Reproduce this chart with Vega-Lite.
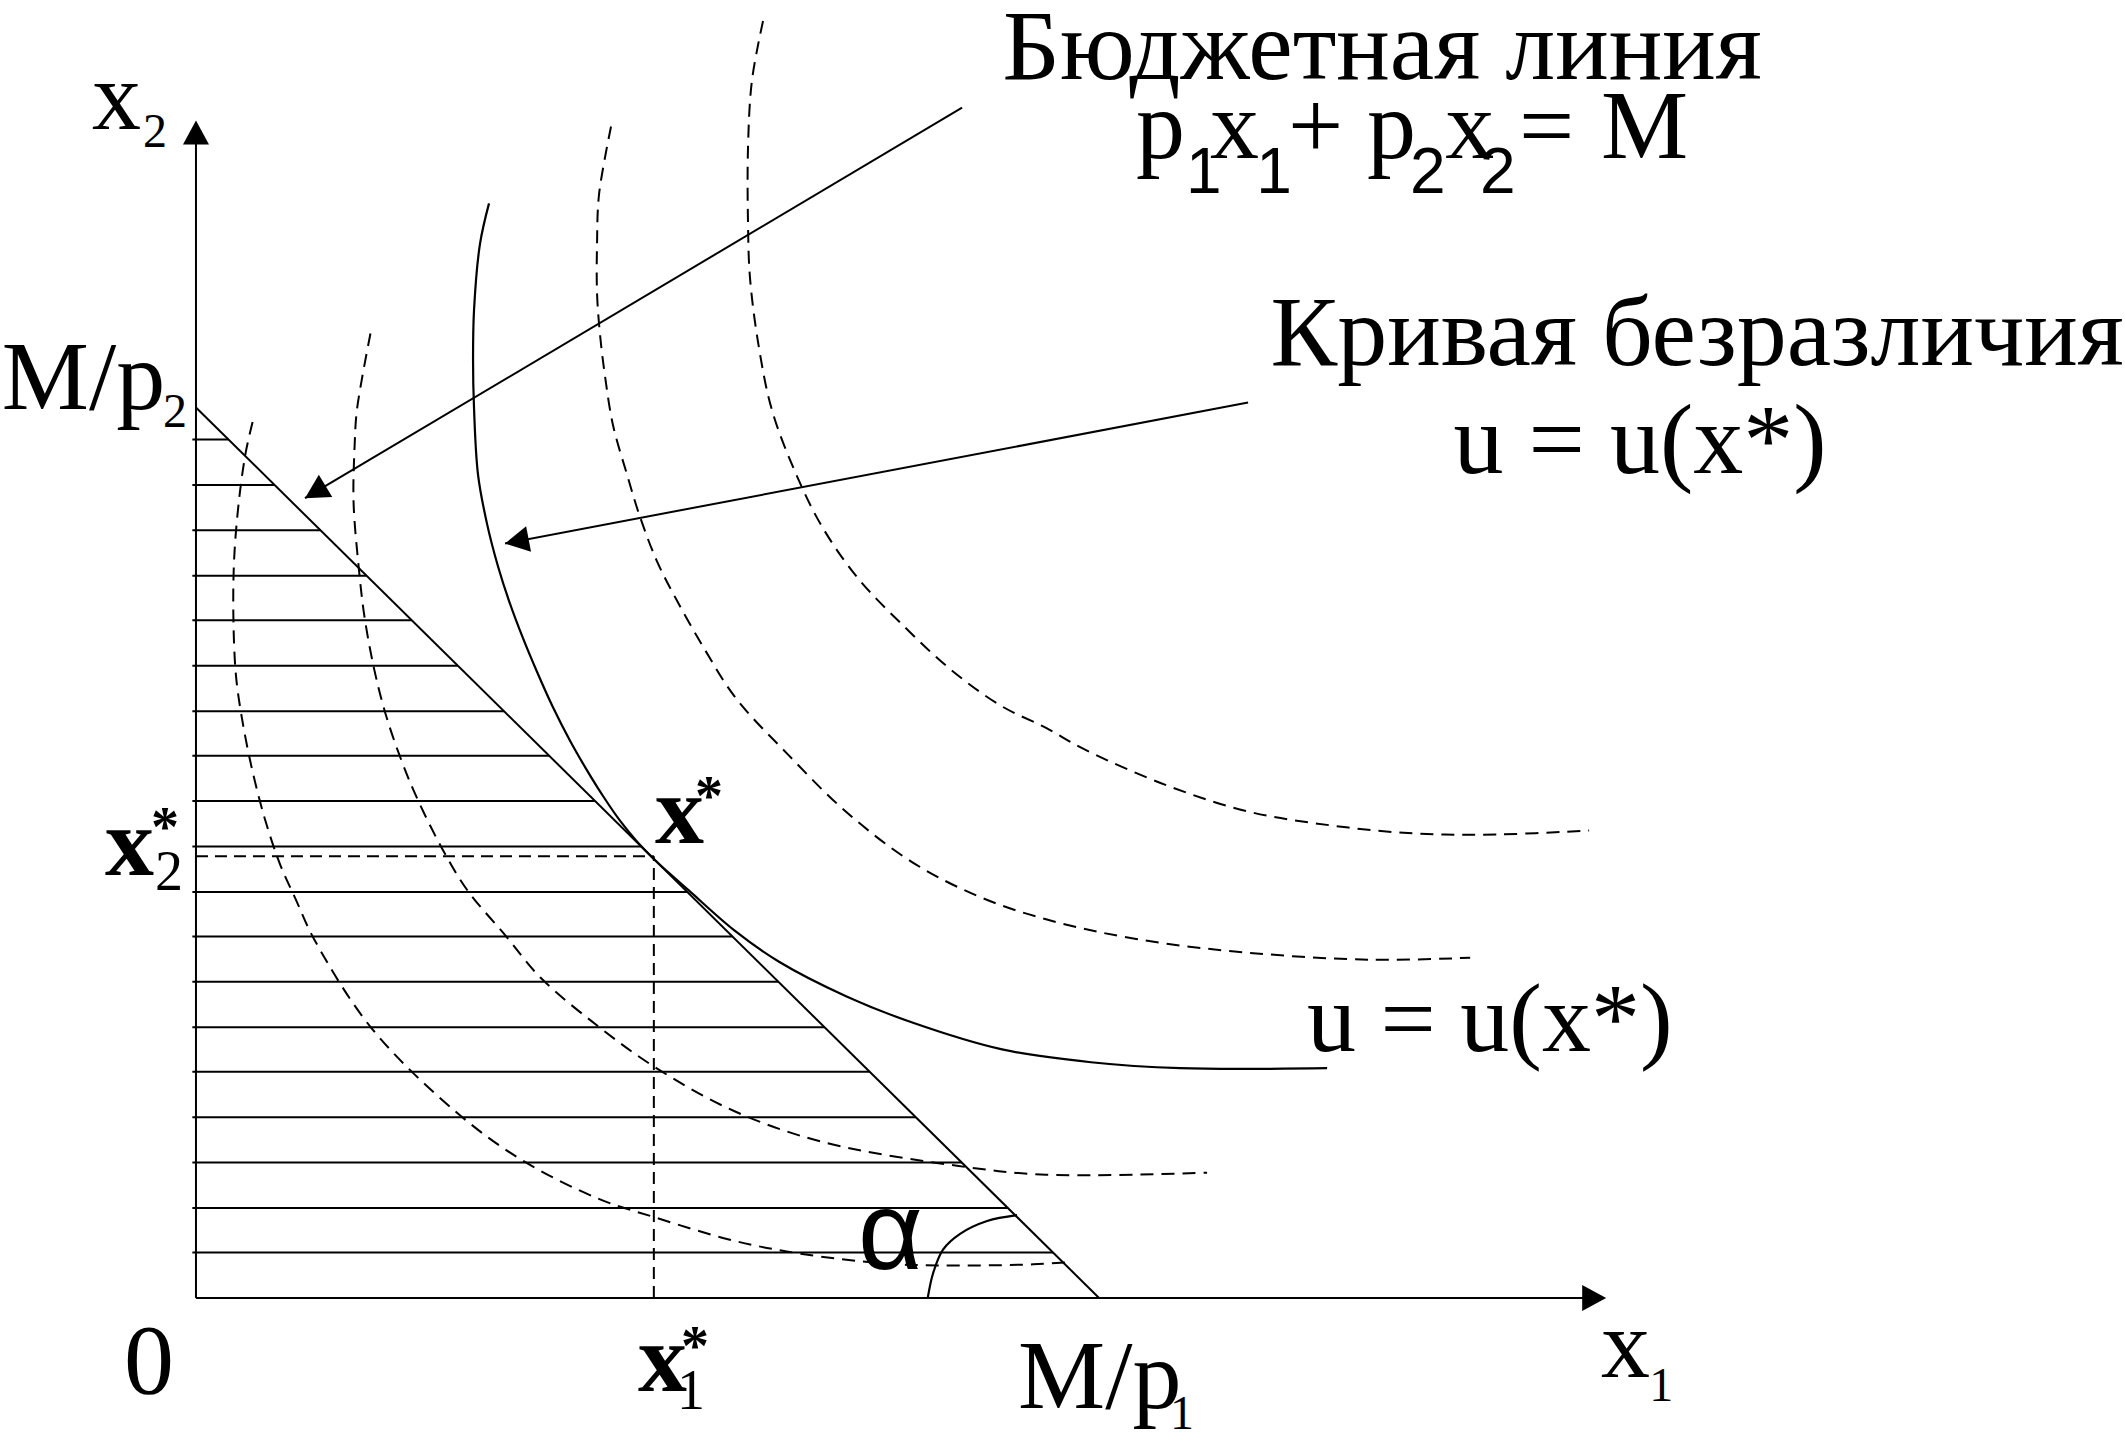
{
  "$schema": "https://vega.github.io/schema/vega-lite/v6.json",
  "autosize": {"type": "fit", "contains": "padding"},
  "width": 2125,
  "height": 1440,
  "padding": 0,
  "background": "white",
  "config": {"view": {"stroke": null}},
  "datasets": {
    "hatch": [
      {"x": -0.04, "x2": 9.49, "y": 0.51},
      {"x": -0.04, "x2": 8.99, "y": 1.01},
      {"x": -0.04, "x2": 8.48, "y": 1.52},
      {"x": -0.04, "x2": 7.97, "y": 2.03},
      {"x": -0.04, "x2": 7.46, "y": 2.54},
      {"x": -0.04, "x2": 6.96, "y": 3.04},
      {"x": -0.04, "x2": 6.45, "y": 3.55},
      {"x": -0.04, "x2": 5.94, "y": 4.06},
      {"x": -0.04, "x2": 5.44, "y": 4.56},
      {"x": -0.04, "x2": 4.93, "y": 5.07},
      {"x": -0.04, "x2": 4.42, "y": 5.58},
      {"x": -0.04, "x2": 3.91, "y": 6.09},
      {"x": -0.04, "x2": 3.41, "y": 6.59},
      {"x": -0.04, "x2": 2.90, "y": 7.10},
      {"x": -0.04, "x2": 2.39, "y": 7.61},
      {"x": -0.04, "x2": 1.89, "y": 8.11},
      {"x": -0.04, "x2": 1.38, "y": 8.62},
      {"x": -0.04, "x2": 0.87, "y": 9.13},
      {"x": -0.04, "x2": 0.36, "y": 9.64}
    ],
    "segments": [
      {"seg": "x2 axis", "x": 0, "y": 0, "x2": 0, "y2": 13.1},
      {"seg": "x1 axis", "x": 0, "y": 0, "x2": 15.5, "y2": 0},
      {"seg": "budget line", "x": 0, "y": 10, "x2": 10, "y2": 0},
      {"seg": "budget pointer", "x": 8.483, "y": 13.367, "x2": 1.207, "y2": 8.981},
      {"seg": "curve pointer", "x": 11.65, "y": 10.055, "x2": 3.422, "y2": 8.472},
      {"seg": "x2 guide", "x": 0, "y": 4.96, "x2": 5.07, "y2": 4.96},
      {"seg": "x1 guide", "x": 5.07, "y": 0, "x2": 5.07, "y2": 4.96}
    ],
    "heads": [
      {"x": 0, "y": 13.223, "rot": 0},
      {"x": 15.615, "y": 0, "rot": 90},
      {"x": 1.207, "y": 8.981, "rot": 238.9},
      {"x": 3.422, "y": 8.472, "rot": 259.1}
    ],
    "curves": [
      {"c": "u1", "i": 0, "x": 0.627, "y": 9.837},
      {"c": "u1", "i": 1, "x": 0.550, "y": 9.491},
      {"c": "u1", "i": 2, "x": 0.474, "y": 8.937},
      {"c": "u1", "i": 3, "x": 0.423, "y": 8.306},
      {"c": "u1", "i": 4, "x": 0.414, "y": 7.663},
      {"c": "u1", "i": 5, "x": 0.443, "y": 6.988},
      {"c": "u1", "i": 6, "x": 0.507, "y": 6.523},
      {"c": "u1", "i": 7, "x": 0.614, "y": 5.969},
      {"c": "u1", "i": 8, "x": 0.762, "y": 5.382},
      {"c": "u1", "i": 9, "x": 0.930, "y": 4.873},
      {"c": "u1", "i": 10, "x": 1.101, "y": 4.485},
      {"c": "u1", "i": 11, "x": 1.313, "y": 4.020},
      {"c": "u1", "i": 12, "x": 1.949, "y": 3.023},
      {"c": "u1", "i": 13, "x": 2.913, "y": 2.060},
      {"c": "u1", "i": 14, "x": 3.643, "y": 1.528},
      {"c": "u1", "i": 15, "x": 4.474, "y": 1.107},
      {"c": "u1", "i": 16, "x": 5.072, "y": 0.908},
      {"c": "u1", "i": 17, "x": 5.958, "y": 0.642},
      {"c": "u1", "i": 18, "x": 6.689, "y": 0.498},
      {"c": "u1", "i": 19, "x": 7.608, "y": 0.388},
      {"c": "u1", "i": 20, "x": 8.239, "y": 0.365},
      {"c": "u1", "i": 21, "x": 9.269, "y": 0.377},
      {"c": "u1", "i": 22, "x": 9.623, "y": 0.399},

      {"c": "u2", "i": 0, "x": 1.932, "y": 10.831},
      {"c": "u2", "i": 1, "x": 1.783, "y": 9.978},
      {"c": "u2", "i": 2, "x": 1.757, "y": 9.579},
      {"c": "u2", "i": 3, "x": 1.745, "y": 8.937},
      {"c": "u2", "i": 4, "x": 1.801, "y": 8.217},
      {"c": "u2", "i": 5, "x": 1.864, "y": 7.663},
      {"c": "u2", "i": 6, "x": 1.970, "y": 7.076},
      {"c": "u2", "i": 7, "x": 2.097, "y": 6.567},
      {"c": "u2", "i": 8, "x": 2.267, "y": 6.058},
      {"c": "u2", "i": 9, "x": 2.457, "y": 5.592},
      {"c": "u2", "i": 10, "x": 2.754, "y": 4.994},
      {"c": "u2", "i": 11, "x": 3.008, "y": 4.574},
      {"c": "u2", "i": 12, "x": 3.432, "y": 4.064},
      {"c": "u2", "i": 13, "x": 3.814, "y": 3.599},
      {"c": "u2", "i": 14, "x": 4.474, "y": 3.034},
      {"c": "u2", "i": 15, "x": 5.116, "y": 2.569},
      {"c": "u2", "i": 16, "x": 5.958, "y": 2.099},
      {"c": "u2", "i": 17, "x": 6.944, "y": 1.750},
      {"c": "u2", "i": 18, "x": 8.427, "y": 1.484},
      {"c": "u2", "i": 19, "x": 9.413, "y": 1.384},
      {"c": "u2", "i": 20, "x": 11.196, "y": 1.406},

      {"c": "u*", "i": 0, "x": 3.245, "y": 12.292},
      {"c": "u*", "i": 1, "x": 3.145, "y": 11.838},
      {"c": "u*", "i": 2, "x": 3.079, "y": 11.096},
      {"c": "u*", "i": 3, "x": 3.068, "y": 10.543},
      {"c": "u*", "i": 4, "x": 3.079, "y": 9.989},
      {"c": "u*", "i": 5, "x": 3.123, "y": 9.247},
      {"c": "u*", "i": 6, "x": 3.223, "y": 8.693},
      {"c": "u*", "i": 7, "x": 3.344, "y": 8.217},
      {"c": "u*", "i": 8, "x": 3.466, "y": 7.829},
      {"c": "u*", "i": 9, "x": 3.621, "y": 7.409},
      {"c": "u*", "i": 10, "x": 3.776, "y": 7.032},
      {"c": "u*", "i": 11, "x": 3.953, "y": 6.633},
      {"c": "u*", "i": 12, "x": 4.142, "y": 6.257},
      {"c": "u*", "i": 13, "x": 4.330, "y": 5.925},
      {"c": "u*", "i": 14, "x": 4.507, "y": 5.637},
      {"c": "u*", "i": 15, "x": 4.695, "y": 5.360},
      {"c": "u*", "i": 16, "x": 4.873, "y": 5.138},
      {"c": "u*", "i": 17, "x": 5.050, "y": 4.950},
      {"c": "u*", "i": 18, "x": 5.249, "y": 4.762},
      {"c": "u*", "i": 19, "x": 5.460, "y": 4.574},
      {"c": "u*", "i": 20, "x": 5.958, "y": 4.131},
      {"c": "u*", "i": 21, "x": 6.456, "y": 3.776},
      {"c": "u*", "i": 22, "x": 7.198, "y": 3.389},
      {"c": "u*", "i": 23, "x": 7.940, "y": 3.090},
      {"c": "u*", "i": 24, "x": 8.926, "y": 2.791},
      {"c": "u*", "i": 25, "x": 9.911, "y": 2.647},
      {"c": "u*", "i": 26, "x": 10.897, "y": 2.580},
      {"c": "u*", "i": 27, "x": 12.525, "y": 2.580},

      {"c": "u4", "i": 0, "x": 4.596, "y": 13.156},
      {"c": "u4", "i": 1, "x": 4.463, "y": 12.392},
      {"c": "u4", "i": 2, "x": 4.441, "y": 11.838},
      {"c": "u4", "i": 3, "x": 4.441, "y": 11.285},
      {"c": "u4", "i": 4, "x": 4.474, "y": 10.819},
      {"c": "u4", "i": 5, "x": 4.529, "y": 10.354},
      {"c": "u4", "i": 6, "x": 4.618, "y": 9.801},
      {"c": "u4", "i": 7, "x": 4.773, "y": 9.247},
      {"c": "u4", "i": 8, "x": 4.917, "y": 8.771},
      {"c": "u4", "i": 9, "x": 5.105, "y": 8.272},
      {"c": "u4", "i": 10, "x": 5.327, "y": 7.829},
      {"c": "u4", "i": 11, "x": 5.637, "y": 7.276},
      {"c": "u4", "i": 12, "x": 5.980, "y": 6.733},
      {"c": "u4", "i": 13, "x": 6.556, "y": 6.102},
      {"c": "u4", "i": 14, "x": 7.198, "y": 5.460},
      {"c": "u4", "i": 15, "x": 7.929, "y": 4.895},
      {"c": "u4", "i": 16, "x": 8.671, "y": 4.507},
      {"c": "u4", "i": 17, "x": 9.413, "y": 4.252},
      {"c": "u4", "i": 18, "x": 10.410, "y": 4.031},
      {"c": "u4", "i": 19, "x": 11.661, "y": 3.876},
      {"c": "u4", "i": 20, "x": 13.034, "y": 3.798},
      {"c": "u4", "i": 21, "x": 14.109, "y": 3.821},

      {"c": "u5", "i": 0, "x": 6.279, "y": 14.341},
      {"c": "u5", "i": 1, "x": 6.157, "y": 13.677},
      {"c": "u5", "i": 2, "x": 6.113, "y": 12.935},
      {"c": "u5", "i": 3, "x": 6.113, "y": 12.049},
      {"c": "u5", "i": 4, "x": 6.135, "y": 11.451},
      {"c": "u5", "i": 5, "x": 6.235, "y": 10.664},
      {"c": "u5", "i": 6, "x": 6.379, "y": 9.967},
      {"c": "u5", "i": 7, "x": 6.633, "y": 9.280},
      {"c": "u5", "i": 8, "x": 6.921, "y": 8.682},
      {"c": "u5", "i": 9, "x": 7.320, "y": 8.095},
      {"c": "u5", "i": 10, "x": 7.852, "y": 7.530},
      {"c": "u5", "i": 11, "x": 8.361, "y": 7.054},
      {"c": "u5", "i": 12, "x": 8.904, "y": 6.656},
      {"c": "u5", "i": 13, "x": 9.413, "y": 6.401},
      {"c": "u5", "i": 14, "x": 9.823, "y": 6.168},
      {"c": "u5", "i": 15, "x": 10.742, "y": 5.759},
      {"c": "u5", "i": 16, "x": 11.661, "y": 5.460},
      {"c": "u5", "i": 17, "x": 12.580, "y": 5.305},
      {"c": "u5", "i": 18, "x": 13.499, "y": 5.216},
      {"c": "u5", "i": 19, "x": 14.408, "y": 5.205},
      {"c": "u5", "i": 20, "x": 15.426, "y": 5.249},

      {"c": "alpha", "i": 0, "x": 8.103, "y": 0.0},
      {"c": "alpha", "i": 1, "x": 8.162, "y": 0.277},
      {"c": "alpha", "i": 2, "x": 8.272, "y": 0.543},
      {"c": "alpha", "i": 3, "x": 8.461, "y": 0.720},
      {"c": "alpha", "i": 4, "x": 8.760, "y": 0.864},
      {"c": "alpha", "i": 5, "x": 9.092, "y": 0.930}
    ],
    "labels": [
      {"role": "caption", "t": "Бюджетная линия", "x": 13.134, "y": 13.688},
      {"role": "caption", "t": "Кривая безразличия", "x": 16.622, "y": 10.476},
      {"role": "caption", "t": "u = u(x*)", "x": 15.991, "y": 9.269},
      {"role": "caption", "t": "0", "x": -0.52, "y": -1.063},

      {"role": "symbol", "t": "p", "x": 10.41, "y": 12.802},
      {"role": "symbol", "t": "x", "x": 11.229, "y": 12.802},
      {"role": "symbol", "t": "+", "x": 12.093, "y": 12.802},
      {"role": "symbol", "t": "p", "x": 12.968, "y": 12.802},
      {"role": "symbol", "t": "x", "x": 13.832, "y": 12.802},
      {"role": "symbol", "t": "=", "x": 14.651, "y": 12.802},
      {"role": "symbol", "t": "M", "x": 15.559, "y": 12.802},
      {"role": "symbol", "t": "u = u(x*)", "x": 12.303, "y": 2.769},
      {"role": "symbol", "t": "x", "x": -1.152, "y": 13.123},
      {"role": "symbol", "t": "M/p", "x": -2.15, "y": 9.978},
      {"role": "symbol", "t": "M/p", "x": 9.103, "y": -1.24},
      {"role": "symbol", "t": "x", "x": 15.559, "y": -0.886},

      {"role": "index", "t": "2", "x": -0.587, "y": 12.924},
      {"role": "index", "t": "2", "x": -0.365, "y": 9.779},
      {"role": "index", "t": "1", "x": 10.786, "y": -1.473},
      {"role": "index", "t": "1", "x": 16.091, "y": -1.152},

      {"role": "starIndex", "t": "2", "x": -0.454, "y": 4.585},
      {"role": "starIndex", "t": "1", "x": 5.327, "y": -1.251},

      {"role": "formulaIndex", "t": "1", "x": 10.963, "y": 12.414},
      {"role": "formulaIndex", "t": "1", "x": 11.739, "y": 12.414},
      {"role": "formulaIndex", "t": "2", "x": 13.444, "y": 12.414},
      {"role": "formulaIndex", "t": "2", "x": 14.219, "y": 12.414},

      {"role": "angle", "t": "α", "x": 7.331, "y": 0.321},

      {"role": "point", "t": "x", "x": 5.083, "y": 5.105},
      {"role": "point", "t": "x", "x": -1.008, "y": 4.751},
      {"role": "point", "t": "x", "x": 4.895, "y": -1.041},

      {"role": "star", "t": "*", "x": 5.526, "y": 5.421},
      {"role": "star", "t": "*", "x": -0.498, "y": 5.072},
      {"role": "star", "t": "*", "x": 5.371, "y": -0.753}
    ]
  },
  "encoding": {
    "x": {"field": "x", "type": "quantitative", "axis": null,
          "scale": {"domain": [-2.17, 21.36], "nice": false, "zero": false}},
    "y": {"field": "y", "type": "quantitative", "axis": null,
          "scale": {"domain": [-1.528, 14.419], "nice": false, "zero": false}}
  },
  "layer": [
    {
      "data": {"name": "hatch"},
      "mark": {"type": "rule", "color": "black", "strokeWidth": 2},
      "encoding": {"x2": {"field": "x2"}}
    },
    {
      "data": {"name": "curves"},
      "transform": [{"filter": "datum.c != 'u*' && datum.c != 'alpha'"}],
      "mark": {"type": "line", "interpolate": "catmull-rom", "color": "black",
               "strokeWidth": 2, "strokeDash": [13, 8]},
      "encoding": {
        "detail": {"field": "c"},
        "order": {"field": "i", "type": "quantitative"}
      }
    },
    {
      "data": {"name": "curves"},
      "transform": [{"filter": "datum.c == 'u*' || datum.c == 'alpha'"}],
      "mark": {"type": "line", "interpolate": "catmull-rom", "color": "black",
               "strokeWidth": 2.2},
      "encoding": {
        "detail": {"field": "c"},
        "order": {"field": "i", "type": "quantitative"}
      }
    },
    {
      "data": {"name": "segments"},
      "transform": [{"filter": "indexof(datum.seg, 'guide') < 0"}],
      "mark": {"type": "rule", "color": "black", "strokeWidth": 2},
      "encoding": {"x2": {"field": "x2"}, "y2": {"field": "y2"}}
    },
    {
      "data": {"name": "segments"},
      "transform": [{"filter": "indexof(datum.seg, 'guide') >= 0"}],
      "mark": {"type": "rule", "color": "black", "strokeWidth": 2, "strokeDash": [12, 7]},
      "encoding": {"x2": {"field": "x2"}, "y2": {"field": "y2"}}
    },
    {
      "data": {"name": "heads"},
      "mark": {"type": "point", "filled": true, "color": "black", "opacity": 1,
               "shape": "M0,0L-0.52,0.96L0.52,0.96Z", "size": 2500},
      "encoding": {"angle": {"field": "rot", "type": "quantitative", "scale": null}}
    },
    {
      "data": {"name": "labels"},
      "transform": [{"filter": "datum.role == 'caption'"}],
      "mark": {"type": "text", "font": "Liberation Serif", "fontSize": 100,
               "align": "center", "baseline": "alphabetic", "color": "black"},
      "encoding": {"text": {"field": "t"}}
    },
    {
      "data": {"name": "labels"},
      "transform": [{"filter": "datum.role == 'symbol'"}],
      "mark": {"type": "text", "font": "Liberation Serif", "fontSize": 98,
               "align": "left", "baseline": "alphabetic", "color": "black"},
      "encoding": {"text": {"field": "t"}}
    },
    {
      "data": {"name": "labels"},
      "transform": [{"filter": "datum.role == 'index'"}],
      "mark": {"type": "text", "font": "Liberation Serif", "fontSize": 48,
               "align": "left", "baseline": "alphabetic", "color": "black"},
      "encoding": {"text": {"field": "t"}}
    },
    {
      "data": {"name": "labels"},
      "transform": [{"filter": "datum.role == 'starIndex'"}],
      "mark": {"type": "text", "font": "Liberation Serif", "fontSize": 56,
               "align": "left", "baseline": "alphabetic", "color": "black"},
      "encoding": {"text": {"field": "t"}}
    },
    {
      "data": {"name": "labels"},
      "transform": [{"filter": "datum.role == 'formulaIndex'"}],
      "mark": {"type": "text", "font": "Liberation Sans", "fontSize": 64,
               "align": "left", "baseline": "alphabetic", "color": "black"},
      "encoding": {"text": {"field": "t"}}
    },
    {
      "data": {"name": "labels"},
      "transform": [{"filter": "datum.role == 'angle'"}],
      "mark": {"type": "text", "font": "Liberation Sans", "fontSize": 112,
               "align": "left", "baseline": "alphabetic", "color": "black"},
      "encoding": {"text": {"field": "t"}}
    },
    {
      "data": {"name": "labels"},
      "transform": [{"filter": "datum.role == 'point'"}],
      "mark": {"type": "text", "font": "Liberation Serif", "fontSize": 98, "fontWeight": "bold",
               "align": "left", "baseline": "alphabetic", "color": "black"},
      "encoding": {"text": {"field": "t"}}
    },
    {
      "data": {"name": "labels"},
      "transform": [{"filter": "datum.role == 'star'"}],
      "mark": {"type": "text", "font": "Liberation Serif", "fontSize": 56, "fontWeight": "bold",
               "align": "left", "baseline": "alphabetic", "color": "black"},
      "encoding": {"text": {"field": "t"}}
    }
  ]
}
